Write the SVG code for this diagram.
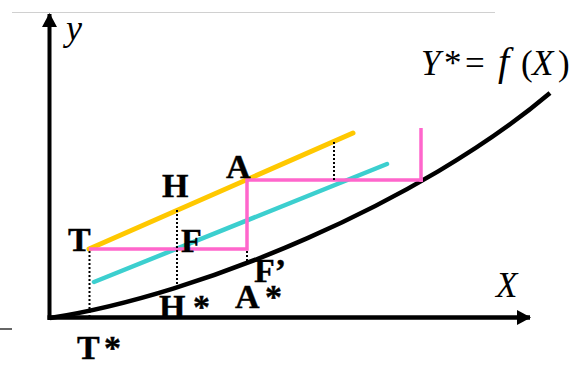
<svg xmlns="http://www.w3.org/2000/svg" width="577" height="365" viewBox="0 0 577 365">
<style>
.lbl{font-family:"Liberation Serif","Times New Roman",serif;font-weight:bold;font-size:34px;fill:#000;stroke:#000;stroke-width:0.4}
.it{font-family:"Liberation Serif","Times New Roman",serif;font-style:italic;fill:#000}
.up{font-style:normal}
.dot{stroke:#000;stroke-width:2;stroke-dasharray:2 2;fill:none}
.pink{stroke:#FF66CC;stroke-width:3.5;fill:none}
</style>
<defs>
<marker id="ah" markerWidth="14" markerHeight="16" refX="13" refY="7.5" orient="auto" markerUnits="userSpaceOnUse">
<path d="M0,0 L14,7.5 L0,15 Z" fill="#000"/>
</marker>
</defs>
<rect width="577" height="365" fill="#fff"/>
<line x1="12" y1="12.5" x2="495" y2="12.5" stroke="#d0d0d0" stroke-width="1"/>
<line x1="0" y1="329" x2="12" y2="329" stroke="#333" stroke-width="1.5"/>

<g id="connectors">
<path d="M50,318 C200,295 420,203 550,93" fill="none" stroke="#000" stroke-width="4.5"/>
<line x1="89" y1="249" x2="353" y2="133" stroke="#FFC800" stroke-width="5" stroke-linecap="round"/>
<line x1="94" y1="282" x2="387" y2="164" stroke="#3CCFCF" stroke-width="4.5" stroke-linecap="round"/>
<path class="pink" d="M89,249 H247 V180 H423"/>
<path class="pink" d="M421,128 V182"/>
<line class="dot" x1="89.5" y1="251" x2="89.5" y2="318"/>
<line class="dot" x1="177" y1="210" x2="177" y2="290"/>
<line class="dot" x1="247" y1="251" x2="247" y2="266"/>
<line class="dot" x1="334" y1="142" x2="334" y2="180"/>
</g>

<g id="labels">
<g id="T"><text class="lbl" x="68" y="251">T</text></g>
<g id="H"><text class="lbl" x="162" y="197">H</text></g>
<g id="F"><text class="lbl" x="181" y="252">F</text></g>
<g id="A"><text class="lbl" x="226" y="178">A</text></g>
<g id="Fp"><text class="lbl" x="254" y="282">F’</text></g>
<g id="Hs"><text class="lbl" x="159" y="318">H<tspan x="193">*</tspan></text></g>
<g id="As"><text class="lbl" x="235" y="308">A<tspan x="265">*</tspan></text></g>
<g id="Ts"><text class="lbl" x="77" y="359">T<tspan x="104">*</tspan></text></g>
<g id="ylab"><text class="it" x="66" y="40" font-size="36">y</text></g>
<g id="Xlab"><text class="it" x="496" y="297" font-size="35">X</text></g>
<g id="eq"><text class="it" x="421" y="75" font-size="35">Y<tspan class="up" x="444">*</tspan><tspan class="up" x="465">=</tspan><tspan x="498" font-size="40">f</tspan><tspan class="up" x="521">(</tspan><tspan x="532">X</tspan><tspan class="up" x="558">)</tspan></text></g>
</g>

<g id="axes">
<line x1="49.5" y1="320" x2="49.5" y2="14" stroke="#000" stroke-width="4" marker-end="url(#ah)"/>
<line x1="47.5" y1="317.5" x2="530" y2="317.5" stroke="#000" stroke-width="4.5" marker-end="url(#ah)"/>
</g>
</svg>
